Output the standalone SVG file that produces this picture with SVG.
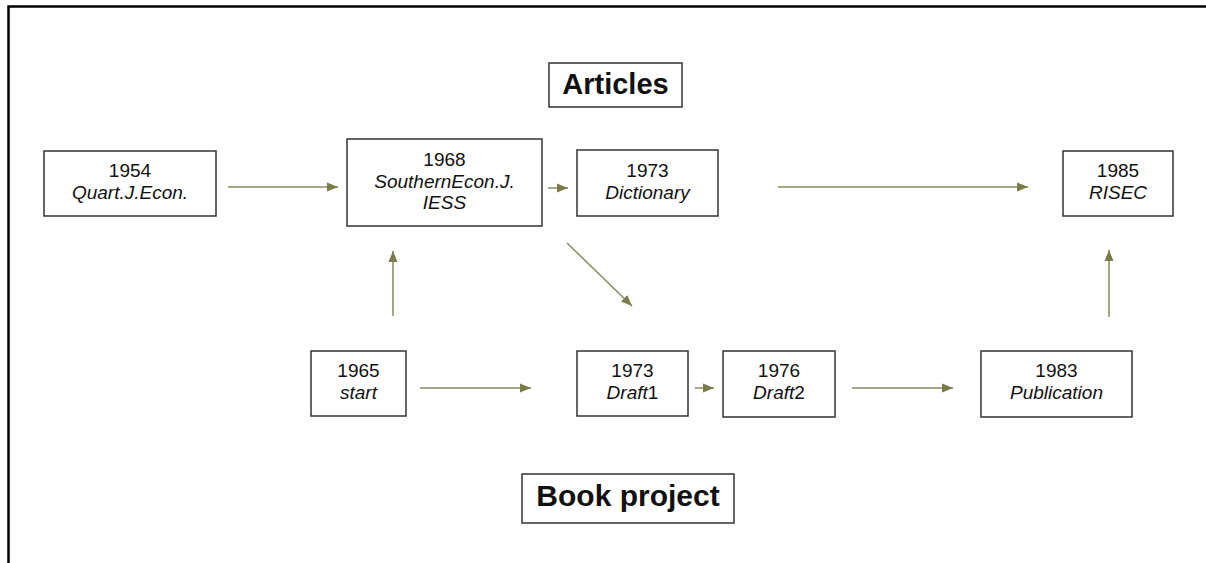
<svg xmlns="http://www.w3.org/2000/svg" width="1206" height="563" viewBox="0 0 1206 563">
<style>
.box{fill:#fff;stroke:#333;stroke-width:1.5}
.t{font-family:"Liberation Sans",Arial,sans-serif;font-size:19px;fill:#111;text-anchor:middle}
.i{font-style:italic}
.h{font-family:"Liberation Sans",Arial,sans-serif;font-size:29px;font-weight:bold;fill:#111;text-anchor:middle}
.c{stroke:#8a8a5e;stroke-width:1.5;fill:none;marker-end:url(#ah)}
</style>
<defs>
<marker id="ah" markerUnits="userSpaceOnUse" markerWidth="12" markerHeight="10" refX="11" refY="5" orient="auto">
<path d="M0,0.5 L11,5 L0,9.5 Z" fill="#7a7a4a"/>
</marker>
</defs>
<rect width="1206" height="563" fill="#fff"/>
<g id="frame" stroke="#000" stroke-width="2.5" fill="none">
<path d="M8.5,563 V6.5 H1206"/>
</g>
<g id="connectors">
<line class="c" x1="228" y1="187" x2="338" y2="187"/>
<line class="c" x1="548" y1="188" x2="568" y2="188"/>
<line class="c" x1="778" y1="187" x2="1028" y2="187"/>
<line class="c" x1="393" y1="316" x2="393" y2="251"/>
<line class="c" x1="567" y1="243" x2="632" y2="306"/>
<line class="c" x1="420" y1="388" x2="531" y2="388"/>
<line class="c" x1="695" y1="388" x2="714" y2="388"/>
<line class="c" x1="852" y1="388" x2="953" y2="388"/>
<line class="c" x1="1109" y1="317" x2="1109" y2="250"/>
</g>
<g id="articles">
<rect class="box" x="549" y="63" width="133" height="44"/>
<text class="h" x="615.5" y="94">Articles</text>
</g>
<g id="book">
<rect class="box" x="522" y="474" width="212" height="49"/>
<text class="h" x="628" y="506" style="font-size:30px">Book project</text>
</g>
<g id="n1954">
<rect class="box" x="44" y="151" width="172" height="65"/>
<text class="t" x="130" y="177">1954</text>
<text class="t i" x="130" y="199">Quart.J.Econ.</text>
</g>
<g id="n1968">
<rect class="box" x="347" y="139" width="195" height="87"/>
<text class="t" x="444.5" y="166">1968</text>
<text class="t i" x="444.5" y="188">SouthernEcon.J.</text>
<text class="t i" x="444.5" y="209">IESS</text>
</g>
<g id="n1973a">
<rect class="box" x="577" y="150" width="141" height="66"/>
<text class="t" x="647.5" y="177">1973</text>
<text class="t i" x="647.5" y="199">Dictionary</text>
</g>
<g id="n1985">
<rect class="box" x="1063" y="151" width="110" height="65"/>
<text class="t" x="1118" y="177">1985</text>
<text class="t i" x="1118" y="199">RISEC</text>
</g>
<g id="n1965">
<rect class="box" x="311" y="351" width="95" height="65"/>
<text class="t" x="358.5" y="377">1965</text>
<text class="t i" x="358.5" y="399">start</text>
</g>
<g id="n1973b">
<rect class="box" x="577" y="351" width="111" height="65"/>
<text class="t" x="632.5" y="377">1973</text>
<text class="t" x="632.5" y="399"><tspan class="i">Draft</tspan>1</text>
</g>
<g id="n1976">
<rect class="box" x="723" y="351" width="112" height="66"/>
<text class="t" x="779" y="377">1976</text>
<text class="t" x="779" y="399"><tspan class="i">Draft</tspan>2</text>
</g>
<g id="n1983">
<rect class="box" x="981" y="351" width="151" height="66"/>
<text class="t" x="1056.5" y="377">1983</text>
<text class="t i" x="1056.5" y="399">Publication</text>
</g>
</svg>
